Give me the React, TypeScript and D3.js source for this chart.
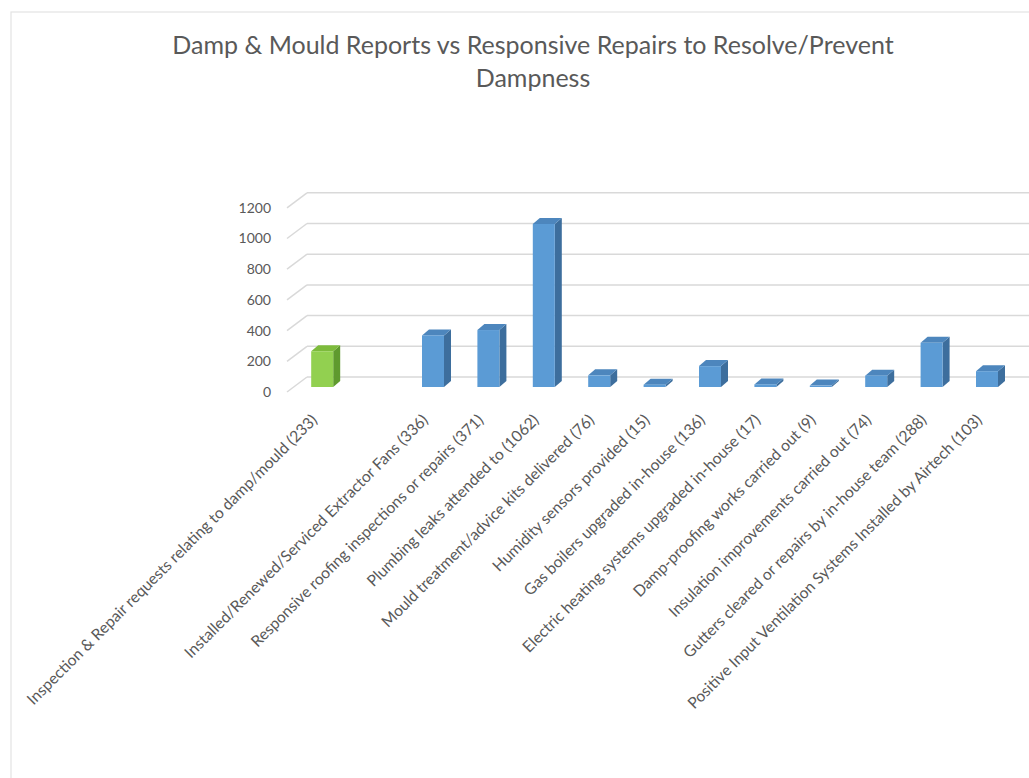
import React from "react";
import * as d3 from "d3";

const categories = [
  "Inspection & Repair requests relating to damp/mould (233)",
  "",
  "Installed/Renewed/Serviced Extractor Fans (336)",
  "Responsive roofing inspections or repairs (371)",
  "Plumbing leaks attended to (1062)",
  "Mould treatment/advice kits delivered (76)",
  "Humidity sensors provided (15)",
  "Gas boilers upgraded in-house (136)",
  "Electric heating systems upgraded in-house (17)",
  "Damp-proofing works carried out (9)",
  "Insulation improvements carried out (74)",
  "Gutters cleared or repairs by in-house team (288)",
  "Positive Input Ventilation Systems Installed by Airtech (103)",
];
const values: (number | null)[] = [233, null, 336, 371, 1062, 76, 15, 136, 17, 9, 74, 288, 103];
const highlight = [true, false, false, false, false, false, false, false, false, false, false, false, false];
const yTicks = [0, 200, 400, 600, 800, 1000, 1200];

const W = 1029;
const H = 778;
const FONT = "Lato, 'Open Sans', sans-serif";

export default function App() {
  const x = d3
    .scaleBand<string>()
    .domain(categories.map((_, i) => String(i)))
    .range([294.5, 294.5 + 55.4 * categories.length]);
  const y = d3.scaleLinear().domain([0, 1200]).range([387, 202.8]);
  const DX = 7;
  const DY = -6;
  const bw = 22;

  return (
    <svg width={W} height={H} style={{ position: "absolute", left: 0, top: 0, background: "#fff" }}>
      {/* outer border */}
      <rect x={11} y={12} width={W} height={H} fill="none" stroke="#e3e3e3" strokeWidth={1.2} />
      {/* title */}
      <text x={533} y={54} textAnchor="middle" fontFamily={FONT} fontSize={25} fill="#595959">
        Damp &amp; Mould Reports vs Responsive Repairs to Resolve/Prevent
      </text>
      <text x={533} y={87} textAnchor="middle" fontFamily={FONT} fontSize={25} fill="#595959">
        Dampness
      </text>
      {/* gridlines */}
      {yTicks.map((t) => (
        <g key={t}>
          <line x1={307} x2={W} y1={y(t) - 10} y2={y(t) - 10} stroke="#d9d9d9" strokeWidth={1.5} />
          <line x1={287} x2={307} y1={y(t) + 5} y2={y(t) - 10} stroke="#d9d9d9" strokeWidth={1.5} />
          <text x={271} y={y(t) + 5} dy="0.35em" textAnchor="end" fontFamily={FONT} fontSize={14} fill="#595959">
            {t}
          </text>
        </g>
      ))}
      {/* bars */}
      {values.map((v, i) => {
        if (v == null) return null;
        const cx = (x(String(i)) as number) + x.bandwidth() / 2;
        const x0 = cx - bw / 2;
        const x1 = cx + bw / 2;
        const y0 = y(0);
        const yt = y(v);
        const front = highlight[i] ? "#92d050" : "#5b9bd5";
        const side = highlight[i] ? "#5f9a2e" : "#3d6e9d";
        const top = highlight[i] ? "#7dbb3c" : "#4d86bd";
        return (
          <g key={i}>
            <path d={`M${x1},${y0}L${x1 + DX},${y0 + DY}L${x1 + DX},${yt + DY}L${x1},${yt}Z`} fill={side} />
            <path d={`M${x0},${yt}L${x1},${yt}L${x1 + DX},${yt + DY}L${x0 + DX},${yt + DY}Z`} fill={top} />
            <rect x={x0} y={yt} width={bw} height={y0 - yt} fill={front} />
          </g>
        );
      })}
      {/* category labels */}
      {categories.map((c, i) => {
        const cx = (x(String(i)) as number) + x.bandwidth() / 2;
        const ax = cx - 4;
        const ay = 421;
        return (
          <text
            key={i}
            x={ax}
            y={ay}
            transform={`rotate(-45 ${ax} ${ay})`}
            textAnchor="end"
            fontFamily={FONT}
            fontSize={15.7}
            fill="#595959"
          >
            {c}
          </text>
        );
      })}
    </svg>
  );
}
